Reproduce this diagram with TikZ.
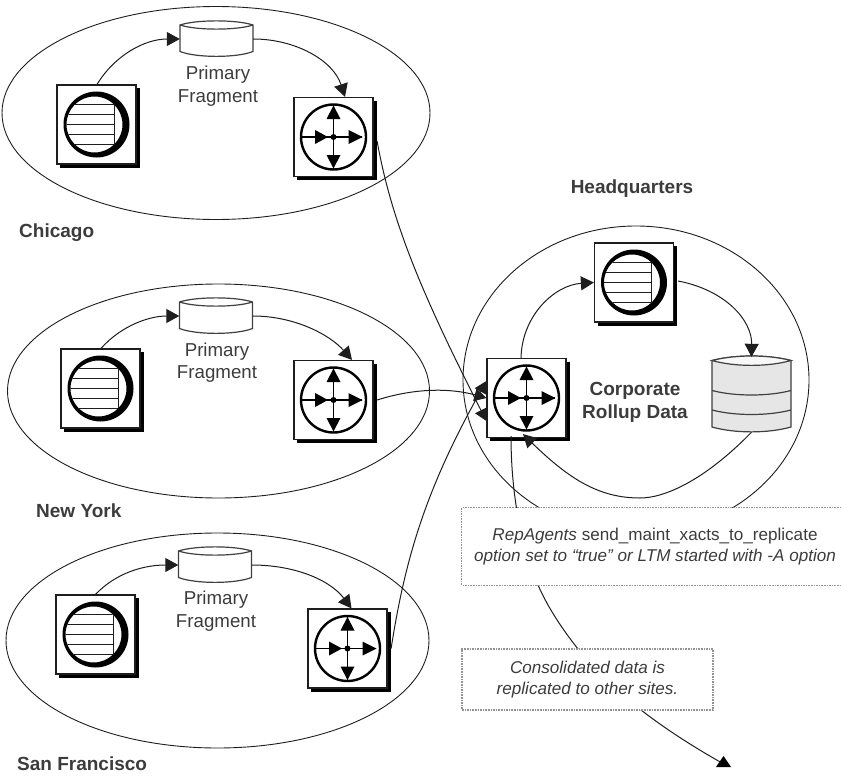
\documentclass[tikz,border=0pt]{standalone}
\usepackage{fontspec}
\setmainfont{Liberation Sans}
\usetikzlibrary{arrows.meta,shapes.geometric}
\definecolor{ink}{HTML}{1E1E1E}
\definecolor{txt}{HTML}{3C3C3C}
\definecolor{drumfill}{HTML}{E6E6E6}
\tikzset{
  site/.style={ellipse,draw=ink,line width=.9pt,inner sep=0pt},
  unitbox/.style={rectangle,draw=ink,line width=1.2pt,fill=white,minimum width=79pt,minimum height=79pt,inner sep=0pt},
  storebox/.style={rectangle,inner sep=0pt,minimum width=73pt,minimum height=36pt},
  flow/.style={draw=ink,line width=1pt,-{Triangle[length=13pt,width=14pt]}},
  flowin/.style={draw=ink,line width=1pt,-{Triangle[length=12pt,width=13pt]}},
  plain/.style={draw=ink,line width=1pt},
  place/.style={font=\fontsize{19}{23}\selectfont\bfseries,text=txt,inner sep=0pt},
  bold/.style={font=\fontsize{19}{23}\selectfont\bfseries,text=txt,inner sep=0pt,align=center},
  frag/.style={font=\fontsize{18.7}{22.5}\selectfont,text=txt,inner sep=0pt,align=center},
  note/.style={font=\fontsize{17.1}{20.5}\selectfont,text=txt,inner sep=0pt,align=center},
  notebox/.style={rectangle,fill=white,inner sep=0pt},
  noteline/.style={draw=gray!85,line width=1.1pt,dash pattern=on 1.6pt off 1pt},
}
\newcommand{\shadowbox}{\fill[black] (-36.5,-36.5) rectangle (43,43);}
\newcommand{\agentunit}[3]{%
  \begin{scope}[shift={(#2,#3)}]
    \shadowbox
    \node[unitbox] (#1) at (0,0) {};
    \fill[black,even odd rule] (0,0) circle[radius=33] (-2,0) circle[radius=28];
    \begin{scope}
      \clip (-2,0) circle[radius=28];
      \draw[ink,line width=1pt] (17.5,-33) -- (17.5,33);
      \foreach \yy in {-20,-10,0,10,20}{\draw[ink,line width=.9pt] (-33,\yy) -- (17.5,\yy);}
    \end{scope}
  \end{scope}}
\newcommand{\routerunit}[3]{%
  \begin{scope}[shift={(#2,#3)}]
    \shadowbox
    \node[unitbox] (#1) at (0,0) {};
    \draw[black,line width=2.4pt] (0,0) circle[radius=32.5];
    \draw[black,line width=1.2pt] (-32,0) -- (28,0) (0,-32) -- (0,32);
    \fill[black] (-18.5,-7) -- (-5.5,0) -- (-18.5,7) -- cycle;
    \fill[black] (15,-7) -- (29,0) -- (15,7) -- cycle;
    \fill[black] (-7,-18) -- (0,-31.5) -- (7,-18) -- cycle;
    \fill[black] (-7,18) -- (0,31.5) -- (7,18) -- cycle;
    \fill[black] (0,0) circle[radius=3];
  \end{scope}}
\newcommand{\primarystore}[3]{%
  \begin{scope}[shift={(#2,#3)}]
    \node[storebox] (#1) at (0,0) {};
    \draw[ink!85,line width=1.2pt,fill=white] (-36.5,-14) .. controls (-20,-19.5) and (20,-19.5) .. (36.5,-14)
      -- (36.5,12.5) .. controls (20,19) and (-20,19) .. (-36.5,12.5) -- cycle;
    \draw[ink!85,line width=1.2pt] (-36.5,-14) .. controls (-20,-8.5) and (20,-8.5) .. (36.5,-14);
  \end{scope}}
\begin{document}
\begin{tikzpicture}[x=1pt,y=-1pt]
\useasboundingbox (0,0) rectangle (841,776);
% sites
\node[site,minimum width=428pt,minimum height=213pt] (chi) at (216,113) {};
\node[site,minimum width=422pt,minimum height=214pt] (ny) at (218.5,391) {};
\node[site,minimum width=423pt,minimum height=215pt] (sf) at (217.5,640.5) {};
\node[site,minimum width=346pt,minimum height=308pt] (hq) at (636,380) {};
% units
\agentunit{agchi}{96.5}{124.5}
\routerunit{rtchi}{333.5}{137}
\primarystore{stchi}{216.5}{39}
\agentunit{agny}{100.5}{388.5}
\routerunit{rtny}{333.5}{400}
\primarystore{stny}{216}{316}
\agentunit{agsf}{95.5}{634.5}
\routerunit{rtsf}{347.5}{648.5}
\primarystore{stsf}{215}{565}
\agentunit{aghq}{634}{282.5}
\routerunit{rthq}{526.5}{398}
% drum
\node[rectangle,inner sep=0pt,minimum width=79pt,minimum height=75pt] (drum) at (751.5,394.5) {};
\draw[ink!85,line width=1.2pt,fill=drumfill] (712,360.5) .. controls (735,354.5) and (768,354.5) .. (791,360.5)
  -- (791,427) .. controls (768,433.5) and (735,433.5) .. (712,427) -- cycle;
\draw[ink!85,line width=1.2pt,fill=white!70!drumfill] (712,360.5) .. controls (735,354.5) and (768,354.5) .. (791,360.5) .. controls (768,367) and (735,367) .. (712,360.5) -- cycle;
\draw[ink!85,line width=1.2pt] (712,390.5) .. controls (735,396.5) and (768,396.5) .. (791,390.5);
\draw[ink!85,line width=1.2pt] (712,410) .. controls (735,416) and (768,416) .. (791,410);
% labels
\node[frag] (frchi) at (218,86) {Primary\\Fragment};
\node[frag] (frny) at (217,362.5) {Primary\\Fragment};
\node[frag] (frsf) at (216,611) {Primary\\Fragment};
\node[place,anchor=west] (lchi) at (19,233) {Chicago};
\node[place,anchor=west] (lny) at (36,511) {New York};
\node[place,anchor=west] (lsf) at (17,763.5) {San Francisco};
\node[bold] (lhq) at (632,188.5) {Headquarters};
\node[bold] (corp) at (635,402.5) {Corporate\\Rollup Data};
% connectors inside sites
\draw[flow] ([xshift=.5pt]agchi.north) .. controls (115,55) and (145,39) .. (stchi.west);
\draw[flow] (stchi.east) .. controls (295,39) and (333,60) .. ([xshift=11.5pt]rtchi.north);
\draw[flow] ([xshift=.5pt]agny.north) .. controls (122,325) and (150,316) .. (stny.west);
\draw[flow] (stny.east) .. controls (295,316) and (330,335) .. ([xshift=18.5pt]rtny.north);
\draw[flow] ([xshift=0pt]agsf.north) .. controls (117,572) and (145,565) .. (stsf.west);
\draw[flow] (stsf.east) .. controls (295,565) and (330,580) .. ([xshift=4pt]rtsf.north);
% long connectors
\draw[flowin] ([xshift=3.5pt,yshift=-4pt]rtchi.east) .. controls (392,225) and (425,300) .. ([yshift=-23pt]rthq.west);
\draw[flowin] ([xshift=3.5pt]rtny.east) .. controls (415,388) and (450,388) .. (rthq.west);
\draw[flowin] ([xshift=3.5pt]rtsf.east) .. controls (405,560) and (425,490) .. ([yshift=17pt]rthq.west);
\draw[flow] ([xshift=-5.5pt]rthq.north) .. controls (522,315) and (555,285) .. (aghq.west);
\draw[flow] ([xshift=4pt,yshift=1.5pt]aghq.east) .. controls (725,290) and (752,320) .. (drum.north);
\draw[flow] (drum.south) .. controls (705,480) and (665,498) .. (640,498) .. controls (600,498) and (570,480) .. ([yshift=4pt,xshift=-3.5pt]rthq.south);
\coordinate (outend) at (722,763);
\draw[plain] ([xshift=-15.5pt,yshift=2pt]rthq.south) .. controls (511,490) and (520,545) .. (538,585) .. controls (548,608) and (563,630) .. (578,649) .. controls (610,690) and (660,728) .. (outend);
\fill[black] (716,767) -- (723.5,756) -- (731,767) -- cycle;
% notes
\node[notebox,minimum width=379pt,minimum height=77pt] (noteA) at (651.5,546.5) {};
\draw[noteline] (noteA.north east) -- (noteA.north west) -- (noteA.south west) -- (noteA.south east);
\node[note] (noteAtext) at (655,546.5) {\textit{RepAgents} send\_maint\_xacts\_to\_replicate\\\textit{option set to “true” or LTM started with -A option}};
\node[notebox,noteline,minimum width=251pt,minimum height=61pt,note] (noteB) at (587.5,679.5) {\textit{Consolidated data is}\\\textit{replicated to other sites.}};
\end{tikzpicture}
\end{document}
